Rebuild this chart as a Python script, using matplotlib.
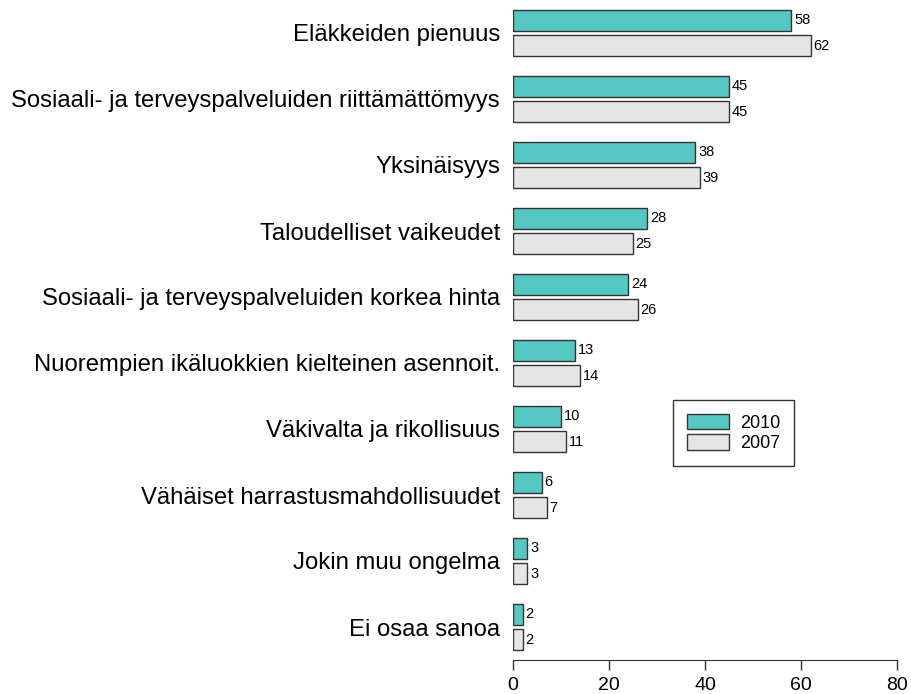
import matplotlib
matplotlib.use("Agg")
import matplotlib.pyplot as plt
import numpy as np

plt.rcParams["font.family"] = ["Liberation Sans", "DejaVu Sans"]

categories = [
    "Eläkkeiden pienuus",
    "Sosiaali- ja terveyspalveluiden riittämättömyys",
    "Yksinäisyys",
    "Taloudelliset vaikeudet",
    "Sosiaali- ja terveyspalveluiden korkea hinta",
    "Nuorempien ikäluokkien kielteinen asennoit.",
    "Väkivalta ja rikollisuus",
    "Vähäiset harrastusmahdollisuudet",
    "Jokin muu ongelma",
    "Ei osaa sanoa",
]
values_2010 = [58, 45, 38, 28, 24, 13, 10, 6, 3, 2]
values_2007 = [62, 45, 39, 25, 26, 14, 11, 7, 3, 2]
series_names = ["2010", "2007"]
xticks = [0, 20, 40, 60, 80]

teal = "#55C8C3"
grey = "#E5E5E5"
edge = "#333333"

W, H = 912, 694
fig = plt.figure(figsize=(W / 100, H / 100), dpi=100)
ax = fig.add_axes([513 / W, (H - 660) / H, (897 - 513) / W, 660 / H])

pos = np.arange(len(categories))
off = 0.193
bh = 0.326
b1 = ax.barh(pos - off, values_2010, height=bh, color=teal, edgecolor=edge, linewidth=1.0, label=series_names[0])
b2 = ax.barh(pos + off, values_2007, height=bh, color=grey, edgecolor=edge, linewidth=1.0, label=series_names[1])

# value labels just right of each bar
for bars, vals in ((b1, values_2010), (b2, values_2007)):
    for b, v in zip(bars, vals):
        ax.text(v + 0.55, b.get_y() + b.get_height() / 2, str(v),
                ha="left", va="center", fontsize=10.5)

ax.set_xlim(0, 80)
ax.set_ylim(9.5, -0.5)
ax.set_yticks(pos)
ax.set_yticklabels(categories, fontsize=17.2)
ax.tick_params(axis="y", length=0, pad=9.4)
ax.set_xticks(xticks)
ax.set_xticklabels([str(t) for t in xticks], fontsize=14)
ax.tick_params(axis="x", direction="out", length=7, width=1, color="#333333", pad=5.5)
for s in ("top", "right", "left"):
    ax.spines[s].set_visible(False)
ax.spines["bottom"].set_color("#333333")

leg = ax.legend(loc="upper left", bbox_to_anchor=(673 / W, 1 - 400 / H),
                bbox_transform=fig.transFigure, fontsize=13, frameon=True,
                fancybox=False, borderpad=0.75, handlelength=2.33, handleheight=0.95,
                labelspacing=0.15, handletextpad=0.65, borderaxespad=0)
leg.get_frame().set_edgecolor("black")
leg.get_frame().set_linewidth(1.0)

fig.savefig("out.png", dpi=100)
